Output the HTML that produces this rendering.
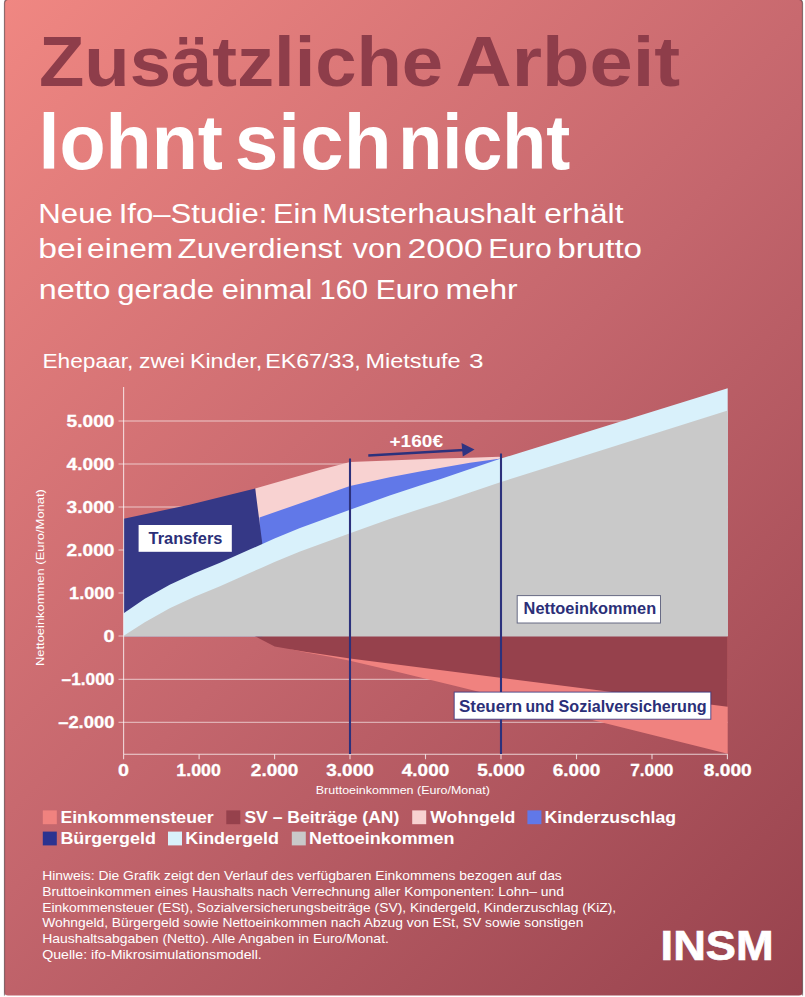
<!DOCTYPE html>
<html lang="de">
<head>
<meta charset="utf-8">
<title>Zusätzliche Arbeit lohnt sich nicht</title>
<style>
  html, body { margin: 0; padding: 0; background: #ffffff; }
  body { width: 805px; height: 997px; overflow: hidden; position: relative; }
  svg { position: absolute; left: 0; top: 0; display: block; }
  text { font-family: "Liberation Sans", sans-serif; }
  .b { font-weight: 700; }
  .w { fill: #ffffff; }
  .navy { fill: #2b2f78; }
  .tick { font-weight: 700; font-size: 17px; fill: #ffffff; stroke: #ffffff; stroke-width: 0.3px; }
  .leg { font-weight: 700; font-size: 16.5px; fill: #ffffff; }
  .note { font-size: 12.8px; fill: #ffffff; }
  .sub { font-size: 27px; fill: #ffffff; }
</style>
</head>
<body>
<svg width="805" height="997" viewBox="0 0 805 997">
  <defs>
    <linearGradient id="bg" gradientUnits="userSpaceOnUse" x1="-48" y1="48" x2="853" y2="949">
      <stop offset="0" stop-color="rgb(240,135,130)"/>
      <stop offset="0.5" stop-color="rgb(196,102,109)"/>
      <stop offset="1" stop-color="rgb(151,66,77)"/>
    </linearGradient>
  </defs>

  <!-- card -->
  <rect x="4.5" y="-0.5" width="798" height="996" rx="3.5" ry="3.5" fill="url(#bg)"/>
  <path d="M4.5 995.5V3a3.5 3.5 0 0 1 3.5-3.5M799 -0.5a3.5 3.5 0 0 1 3.5 3.5V995.5" fill="none" stroke="#4a3036" stroke-opacity="0.6" stroke-width="1.2"/>

  <!-- headline -->
  <text y="86.2" class="b" fill="#8e3d4a" font-size="70"><tspan x="38.99" textLength="404.15" lengthAdjust="spacingAndGlyphs">Zusätzliche</tspan> <tspan x="455.56" textLength="224.58" lengthAdjust="spacingAndGlyphs">Arbeit</tspan></text>
  <text y="169" class="b w" font-size="77"><tspan x="38.53" textLength="184.39" lengthAdjust="spacingAndGlyphs">lohnt</tspan> <tspan x="234.74" textLength="156.81" lengthAdjust="spacingAndGlyphs">sich</tspan> <tspan x="398.15" textLength="172.13" lengthAdjust="spacingAndGlyphs">nicht</tspan></text>

  <!-- intro -->
  <text y="222.8" class="sub"><tspan x="38.35" textLength="74.44" lengthAdjust="spacingAndGlyphs">Neue</tspan> <tspan x="118.73" textLength="148.61" lengthAdjust="spacingAndGlyphs">Ifo–Studie:</tspan> <tspan x="272.99" textLength="44.31" lengthAdjust="spacingAndGlyphs">Ein</tspan> <tspan x="322.03" textLength="213.9" lengthAdjust="spacingAndGlyphs">Musterhaushalt</tspan> <tspan x="544.26" textLength="79.18" lengthAdjust="spacingAndGlyphs">erhält</tspan></text>
  <text y="257.8" class="sub"><tspan x="38.23" textLength="44.94" lengthAdjust="spacingAndGlyphs">bei</tspan> <tspan x="87.06" textLength="86.13" lengthAdjust="spacingAndGlyphs">einem</tspan> <tspan x="177.6" textLength="164.33" lengthAdjust="spacingAndGlyphs">Zuverdienst</tspan> <tspan x="352.8" textLength="49.29" lengthAdjust="spacingAndGlyphs">von</tspan> <tspan x="407.6" textLength="75.12" lengthAdjust="spacingAndGlyphs">2000</tspan> <tspan x="488.23" textLength="63.64" lengthAdjust="spacingAndGlyphs">Euro</tspan> <tspan x="557.16" textLength="84.94" lengthAdjust="spacingAndGlyphs">brutto</tspan></text>
  <text y="299.4" class="sub"><tspan x="38.76" textLength="71.8" lengthAdjust="spacingAndGlyphs">netto</tspan> <tspan x="117.19" textLength="96.79" lengthAdjust="spacingAndGlyphs">gerade</tspan> <tspan x="221.89" textLength="90.56" lengthAdjust="spacingAndGlyphs">einmal</tspan> <tspan x="319.48" textLength="48.55" lengthAdjust="spacingAndGlyphs">160</tspan> <tspan x="375.73" textLength="63.53" lengthAdjust="spacingAndGlyphs">Euro</tspan> <tspan x="445.5" textLength="72.13" lengthAdjust="spacingAndGlyphs">mehr</tspan></text>

  <!-- chart caption -->
  <text y="368.4" font-size="20.5" class="w"><tspan x="42.46" textLength="90.85" lengthAdjust="spacingAndGlyphs">Ehepaar,</tspan> <tspan x="139.07" textLength="45.87" lengthAdjust="spacingAndGlyphs">zwei</tspan> <tspan x="189.93" textLength="72.32" lengthAdjust="spacingAndGlyphs">Kinder,</tspan> <tspan x="265.19" textLength="95.59" lengthAdjust="spacingAndGlyphs">EK67/33,</tspan> <tspan x="365.48" textLength="95.17" lengthAdjust="spacingAndGlyphs">Mietstufe</tspan> <tspan x="468.9" textLength="14.55" lengthAdjust="spacingAndGlyphs">3</tspan></text>

  <!-- ===== chart ===== -->
  <!-- grid lines (behind areas) -->
  <g stroke="#ffffff" stroke-opacity="0.62" stroke-width="1" fill="none">
    <path d="M118.5 421H727.5M118.5 464H727.5M118.5 507H727.5M118.5 550H727.5M118.5 593H727.5M118.5 636H727.5M118.5 679.3H727.5M118.5 722.3H727.5"/>
  </g>

  <!-- negative areas -->
  <path d="M290 636 L290 649 L305 652.2 L330 656.8 L350 660.8 L400 672.5 L455.6 686 L727.7 753.8 L727.7 636 Z" fill="#f0827f"/>
  <path d="M254.5 636 L274.7 646.6 L305 651.8 L350 658.6 L727.7 706.7 L727.7 636 Z" fill="#96414c"/>

  <!-- Wohngeld (pink) -->
  <path d="M255.2 488.6 L319.6 470 L350 462.1 L389.7 460.4 L420 459.2 L440 458.6 L470 457.7 L499.5 456.7 L501 458.6 L503 470 L503 560 L255.2 560 Z" fill="#f8d2d1"/>
  <!-- Kinderzuschlag (blue) -->
  <path d="M259.5 517.6 L299.7 503.4 L350 486.1 L389.7 477.3 L420 471.6 L440 468.1 L470 462.7 L501 458.6 L503 470 L503 560 L259.5 560 Z" fill="#6178e8"/>
  <!-- Buergergeld (navy) -->
  <path d="M123.7 518.8 L189.5 504.7 L255.2 488.6 L262.3 543.6 L262.3 636.2 L123.7 636.2 Z" fill="#353886"/>
  <!-- Kindergeld (light blue) -->
  <path d="M123.7 613.3 L144.8 598.8 L169.7 584.8 L194.5 573.3 L220 562.8 L249.7 549.5 L262.3 544.1 L274.5 538.6 L300 528.1 L350 509.8 L389.7 495.5 L420 485.6 L440 479.3 L470 469.1 L501 458.6 L520 452.7 L727.7 388.2 L727.7 636.2 L123.7 636.2 Z" fill="#d9f1fb"/>
  <!-- Nettoeinkommen (grey) -->
  <path d="M123.7 635.8 L144.8 622.2 L169.7 608.2 L194.5 596.7 L220 586.2 L249.7 572.9 L262.3 567.5 L274.5 562 L300 551.5 L350 533.2 L389.7 518.9 L420 509 L440 502.7 L470 492.5 L501 481.9 L520 476.1 L727.7 410.6 L727.7 636.2 L123.7 636.2 Z" fill="#c9c9c9"/>

  <!-- axes -->
  <g stroke="#ffffff" stroke-opacity="0.72" stroke-width="1.1" fill="none">
    <path d="M123.6 387V754.3"/>
    <path d="M123.6 754.3H727.7"/>
    <path d="M123.6 754.3v5M199.1 754.3v5M274.6 754.3v5M350 754.3v5M425.5 754.3v5M501 754.3v5M576.5 754.3v5M652 754.3v5M727.4 754.3v5"/>
  </g>

  <!-- marker lines -->
  <g stroke="#2c317c" stroke-width="2.1" fill="none">
    <path d="M350 458.4V754"/>
    <path d="M501 453.5V754"/>
    <path d="M368.3 455.5L464 450" stroke-width="2.4"/>
  </g>
  <path d="M474.5 449.6L461.5 442.9L462.8 456.4Z" fill="#2e3382"/>
  <text x="389.5" y="446.6" class="b w" font-size="16" textLength="53.5" lengthAdjust="spacingAndGlyphs">+160€</text>

  <!-- y tick labels -->
  <g class="tick" text-anchor="end">
    <text x="114.4" y="427.1" textLength="47.8" lengthAdjust="spacingAndGlyphs">5.000</text>
    <text x="114.4" y="470.1" textLength="47.8" lengthAdjust="spacingAndGlyphs">4.000</text>
    <text x="114.4" y="513.1" textLength="47.8" lengthAdjust="spacingAndGlyphs">3.000</text>
    <text x="114.4" y="556.1" textLength="47.8" lengthAdjust="spacingAndGlyphs">2.000</text>
    <text x="114.4" y="599.1" textLength="45.3" lengthAdjust="spacingAndGlyphs">1.000</text>
    <text x="114.4" y="642.1" textLength="11" lengthAdjust="spacingAndGlyphs">0</text>
    <text x="114.4" y="685.2" textLength="52.8" lengthAdjust="spacingAndGlyphs">–1.000</text>
    <text x="114.4" y="728.2" textLength="56.2" lengthAdjust="spacingAndGlyphs">–2.000</text>
  </g>
  <!-- x tick labels -->
  <g class="tick" text-anchor="middle">
    <text x="123.6" y="776" textLength="11" lengthAdjust="spacingAndGlyphs">0</text>
    <text x="198.6" y="776" textLength="44.5" lengthAdjust="spacingAndGlyphs">1.000</text>
    <text x="274.6" y="776" textLength="47.5" lengthAdjust="spacingAndGlyphs">2.000</text>
    <text x="350" y="776" textLength="47.5" lengthAdjust="spacingAndGlyphs">3.000</text>
    <text x="425.5" y="776" textLength="47.5" lengthAdjust="spacingAndGlyphs">4.000</text>
    <text x="501" y="776" textLength="47.5" lengthAdjust="spacingAndGlyphs">5.000</text>
    <text x="576.5" y="776" textLength="47.5" lengthAdjust="spacingAndGlyphs">6.000</text>
    <text x="651.8" y="776" textLength="43.2" lengthAdjust="spacingAndGlyphs">7.000</text>
    <text x="727.8" y="776" textLength="48" lengthAdjust="spacingAndGlyphs">8.000</text>
  </g>
  <!-- axis titles -->
  <text transform="translate(43.6 577.6) rotate(-90)" text-anchor="middle" font-size="11" class="w" textLength="177" lengthAdjust="spacingAndGlyphs">Nettoeinkommen (Euro/Monat)</text>
  <text x="315.8" y="793.6" font-size="10.8" class="w" textLength="174" lengthAdjust="spacingAndGlyphs">Bruttoeinkommen (Euro/Monat)</text>

  <!-- in-chart labels -->
  <rect x="138.6" y="525" width="93.2" height="26.8" fill="#ffffff"/>
  <text x="148.6" y="544.3" class="b navy" font-size="16.5" textLength="73.8" lengthAdjust="spacingAndGlyphs">Transfers</text>

  <rect x="517.2" y="595.6" width="143.3" height="27.4" fill="#ffffff" stroke="#5a5d7a" stroke-opacity="0.9" stroke-width="1"/>
  <text x="523.6" y="614.1" class="b navy" font-size="16.5" textLength="132.6" lengthAdjust="spacingAndGlyphs">Nettoeinkommen</text>

  <rect x="454.2" y="692.1" width="256.6" height="27.1" fill="#ffffff" stroke="#2e3382" stroke-opacity="0.8" stroke-width="1"/>
  <text y="711.8" class="b navy" font-size="16.5"><tspan x="458.91" textLength="63.24" lengthAdjust="spacingAndGlyphs">Steuern</tspan> <tspan x="525.53" textLength="28.81" lengthAdjust="spacingAndGlyphs">und</tspan> <tspan x="558.53" textLength="148.15" lengthAdjust="spacingAndGlyphs">Sozialversicherung</tspan></text>

  <!-- legend -->
  <g>
    <rect x="42.8" y="810.4" width="14" height="13.8" fill="#f0827f"/>
    <rect x="226.3" y="810.4" width="14" height="13.8" fill="#96414c"/>
    <rect x="412.2" y="810.4" width="14" height="13.8" fill="#f8d2d1"/>
    <rect x="527.4" y="810.4" width="14" height="13.8" fill="#6178e8"/>
    <rect x="42.8" y="831.6" width="14" height="13.8" fill="#2b3390"/>
    <rect x="168" y="831.6" width="14" height="13.8" fill="#d9f1fb"/>
    <rect x="291.8" y="831.6" width="14" height="13.8" fill="#c9c9c9"/>
  </g>
  <g class="leg">
    <text x="60.4" y="823.2" textLength="153.3" lengthAdjust="spacingAndGlyphs">Einkommensteuer</text>
    <text x="244.4" y="823.2" textLength="155" lengthAdjust="spacingAndGlyphs">SV – Beiträge (AN)</text>
    <text x="430.2" y="823.2" textLength="85.2" lengthAdjust="spacingAndGlyphs">Wohngeld</text>
    <text x="544.5" y="823.2" textLength="131.5" lengthAdjust="spacingAndGlyphs">Kinderzuschlag</text>
    <text x="60.4" y="844.3" textLength="95.5" lengthAdjust="spacingAndGlyphs">Bürgergeld</text>
    <text x="185.2" y="844.3" textLength="93.8" lengthAdjust="spacingAndGlyphs">Kindergeld</text>
    <text x="309" y="844.3" textLength="145.5" lengthAdjust="spacingAndGlyphs">Nettoeinkommen</text>
  </g>

  <!-- footnote -->
  <g class="note">
    <text x="42.2" y="880" textLength="519.6" lengthAdjust="spacingAndGlyphs">Hinweis: Die Grafik zeigt den Verlauf des verfügbaren Einkommens bezogen auf das</text>
    <text x="42.2" y="895.8" textLength="521.8" lengthAdjust="spacingAndGlyphs">Bruttoeinkommen eines Haushalts nach Verrechnung aller Komponenten: Lohn– und</text>
    <text x="42.2" y="911.6" textLength="574" lengthAdjust="spacingAndGlyphs">Einkommensteuer (ESt), Sozialversicherungsbeiträge (SV), Kindergeld, Kinderzuschlag (KiZ),</text>
    <text x="42.2" y="927.4" textLength="541.2" lengthAdjust="spacingAndGlyphs">Wohngeld, Bürgergeld sowie Nettoeinkommen nach Abzug von ESt, SV sowie sonstigen</text>
    <text x="42.2" y="943.2" textLength="346.7" lengthAdjust="spacingAndGlyphs">Haushaltsabgaben (Netto). Alle Angaben in Euro/Monat.</text>
    <text x="42.2" y="959" textLength="219.6" lengthAdjust="spacingAndGlyphs">Quelle: ifo-Mikrosimulationsmodell.</text>
  </g>

  <!-- logo -->
  <text x="660.6" y="959.7" class="b w" font-size="42" stroke="#ffffff" stroke-width="0.7" textLength="113" lengthAdjust="spacingAndGlyphs">INSM</text>
</svg>
</body>
</html>
